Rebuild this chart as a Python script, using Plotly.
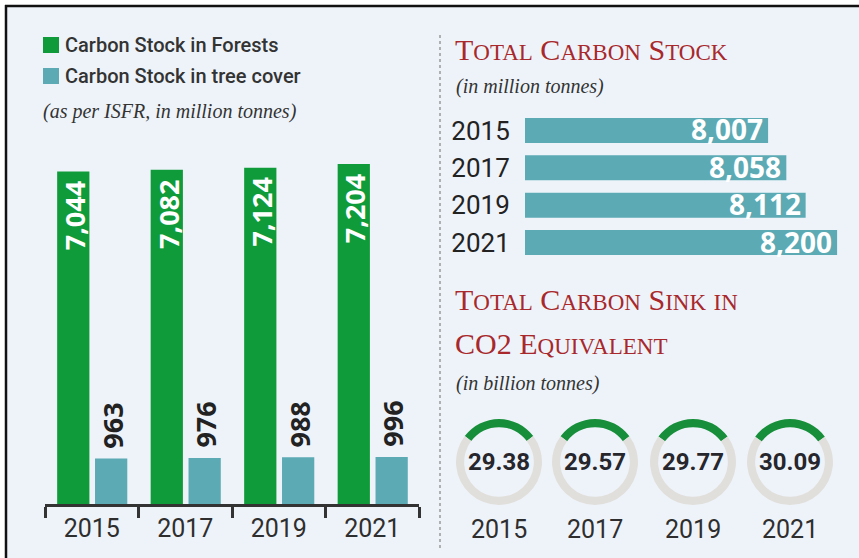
import plotly.graph_objects as go

W, H = 859, 558


def px(x):
    return x / W


def py(y):
    return 1 - y / H


# ---------------- data ----------------
years = ["2015", "2017", "2019", "2021"]
forest_stock = [7044, 7082, 7124, 7204]          # million tonnes
tree_cover_stock = [963, 976, 988, 996]          # million tonnes
total_stock = [8007, 8058, 8112, 8200]           # million tonnes
carbon_sink = [29.38, 29.57, 29.77, 30.09]       # billion tonnes CO2 eq.

legend_labels = ["Carbon Stock in Forests", "Carbon Stock in tree cover"]
left_note = "(as per ISFR, in million tonnes)"
title_stock = "Total Carbon Stock"
note_stock = "(in million tonnes)"
title_sink_1 = "Total Carbon Sink in"
title_sink_2 = "CO2 Equivalent"
note_sink = "(in billion tonnes)"
SINK_SCALE = 100  # gauge full circle

# ---------------- styles ----------------
GREEN = "#109B3B"
TEAL = "#5BAAB4"
GAUGE_GREEN = "#178F3A"
GAUGE_GREY = "#E1DFDB"
RED = "#A8282B"
DARK = "#2E2E2E"
BG = "#EEF3FA"
SANS = "Roboto, Noto Sans, sans-serif"
BOLD = "Open Sans, DejaVu Sans, sans-serif"
SERIF = "Liberation Serif, DejaVu Serif, serif"


def small_caps(text, big=30, small=23):
    out = []
    for ch in text:
        if ch.isupper() or ch.isdigit():
            out.append(f'<span style="font-size:{big}px">{ch}</span>')
        elif ch == " ":
            out.append(" ")
        else:
            out.append(f'<span style="font-size:{small}px">{ch.upper()}</span>')
    return "".join(out)


fig = go.Figure()

# ---------------- left grouped bars ----------------
BW = 0.345
OFF_G, OFF_T = -0.37, 0.035
fig.add_trace(go.Bar(x=years, y=forest_stock, name=legend_labels[0],
                     marker=dict(color=GREEN, line=dict(width=0)),
                     width=BW, offset=OFF_G, xaxis="x", yaxis="y",
                     hoverinfo="skip", showlegend=False))
fig.add_trace(go.Bar(x=years, y=tree_cover_stock, name=legend_labels[1],
                     marker=dict(color=TEAL, line=dict(width=0)),
                     width=BW, offset=OFF_T, xaxis="x", yaxis="y",
                     hoverinfo="skip", showlegend=False))

annotations = []
for i, (f, t) in enumerate(zip(forest_stock, tree_cover_stock)):
    annotations.append(dict(x=i + OFF_G + BW / 2, y=f, xref="x", yref="y",
                            text=f"{f:,}", textangle=-90, showarrow=False,
                            yanchor="top", xanchor="center", yshift=-8, xshift=1,
                            font=dict(family=BOLD, size=27, color="white", weight="bold")))
    annotations.append(dict(x=i + OFF_T + BW / 2, y=t, xref="x", yref="y",
                            text=f"{t:,}", textangle=-90, showarrow=False,
                            yanchor="bottom", xanchor="center", yshift=8, xshift=1,
                            font=dict(family=BOLD, size=27, color="#222222", weight="bold")))

# ---------------- right horizontal bars ----------------
K = 0.3575   # px per unit
V0 = 7327
X2L, X2R = 525, 845
fig.add_trace(go.Bar(y=years, x=total_stock, orientation="h",
                     marker=dict(color=TEAL, line=dict(width=0)), width=0.67,
                     xaxis="x2", yaxis="y2", hoverinfo="skip", showlegend=False))
for i, v in enumerate(total_stock):
    annotations.append(dict(x=v, y=i, xref="x2", yref="y2", text=f"{v:,}",
                            showarrow=False, xanchor="right", yanchor="middle",
                            xshift=-3, yshift=1,
                            font=dict(family=BOLD, size=28, color="white", weight="bold")))

# ---------------- gauges ----------------
gauge_cx = [499, 595, 693, 790]
GCY, GR = 462, 43
for cx, v, yr in zip(gauge_cx, carbon_sink, years):
    fig.add_trace(go.Pie(values=[v, SINK_SCALE - v], sort=False, direction="clockwise",
                         rotation=-v / SINK_SCALE * 180, hole=0.81,
                         marker=dict(colors=[GAUGE_GREEN, GAUGE_GREY], line=dict(width=0)),
                         textinfo="none", hoverinfo="skip", showlegend=False,
                         domain=dict(x=[px(cx - GR), px(cx + GR)], y=[py(GCY + GR), py(GCY - GR)])))
    annotations.append(dict(x=px(cx), y=py(GCY), xref="paper", yref="paper",
                            text=f"{v:.2f}", showarrow=False, xanchor="center", yanchor="middle",
                            font=dict(family=SANS, size=24, color="#26262C", weight="bold")))
    annotations.append(dict(x=px(cx), y=py(529), xref="paper", yref="paper",
                            text=yr, showarrow=False, xanchor="center", yanchor="middle",
                            font=dict(family=SANS, size=25, color=DARK)))

# ---------------- texts ----------------
legend_colors = [GREEN, TEAL]
legend_y = [45, 76]
shapes = [
    dict(type="rect", xref="paper", yref="paper", x0=px(6), x1=1, y0=0, y1=py(6),
         fillcolor=BG, line=dict(width=0), layer="below"),
    dict(type="line", xref="paper", yref="paper", x0=px(5), x1=1, y0=py(6), y1=py(6),
         line=dict(color="#111111", width=2.5)),
    dict(type="line", xref="paper", yref="paper", x0=px(6), x1=px(6), y0=0, y1=py(5),
         line=dict(color="#111111", width=2.5)),
    dict(type="line", xref="paper", yref="paper", x0=px(440), x1=px(440), y0=py(548), y1=py(33),
         line=dict(color="#9A9A9A", width=1.5, dash="dot")),
]
for c, ly, lab in zip(legend_colors, legend_y, legend_labels):
    shapes.append(dict(type="rect", xref="paper", yref="paper", x0=px(43), x1=px(59),
                       y0=py(ly + 8), y1=py(ly - 8), fillcolor=c, line=dict(width=0)))
    annotations.append(dict(x=px(63), y=py(ly), xref="paper", yref="paper", text=lab,
                            showarrow=False, xanchor="left", yanchor="middle",
                            font=dict(family=SANS, size=20, color="#333333", weight=500)))
annotations.append(dict(x=px(41), y=py(111), xref="paper", yref="paper", text=f"<i>{left_note}</i>",
                        showarrow=False, xanchor="left", yanchor="middle",
                        font=dict(family=SERIF, size=20, color="#333333")))

for txt, yy in [(title_stock, 49), (title_sink_1, 299), (title_sink_2, 343)]:
    annotations.append(dict(x=px(453), y=py(yy), xref="paper", yref="paper", text=small_caps(txt),
                            showarrow=False, xanchor="left", yanchor="middle",
                            font=dict(family=SERIF, size=30, color=RED)))
for txt, yy in [(note_stock, 87), (note_sink, 383)]:
    annotations.append(dict(x=px(454), y=py(yy), xref="paper", yref="paper", text=f"<i>{txt}</i>",
                            showarrow=False, xanchor="left", yanchor="middle",
                            font=dict(family=SERIF, size=20, color="#333333")))

S = 0.0472  # px per unit, left chart
Y_BASE, Y_TOP = 504, 152

fig.update_layout(
    width=W, height=H, margin=dict(l=0, r=0, t=0, b=0),
    paper_bgcolor="white", plot_bgcolor="rgba(0,0,0,0)",
    barmode="overlay",
    xaxis=dict(domain=[px(45), px(419)], type="category", range=[-0.5, 3.5],
               showline=True, linecolor="#333333", linewidth=2.5,
               ticks="outside", tickson="boundaries", ticklen=11, tickwidth=2.5, tickcolor="#333333",
               tickfont=dict(family=SANS, size=25, color=DARK), showgrid=False, zeroline=False,
               fixedrange=True),
    yaxis=dict(domain=[py(Y_BASE), py(Y_TOP)], range=[0, (Y_BASE - Y_TOP) / S],
               visible=False, fixedrange=True),
    xaxis2=dict(domain=[px(X2L), px(X2R)], range=[V0, V0 + (X2R - X2L) / K],
                visible=False, anchor="y2", fixedrange=True),
    yaxis2=dict(domain=[py(261.2), py(111.8)], type="category", range=[3.5, -0.5],
                anchor="x2", showline=False, showgrid=False, zeroline=False,
                ticks="outside", ticklen=9, tickcolor="rgba(0,0,0,0)",
                tickfont=dict(family=SANS, size=26, color="#222222"), fixedrange=True),
    shapes=shapes,
    annotations=annotations,
)

fig.write_html("out.html", config={"displayModeBar": False},
               post_script="document.body.style.margin='0';document.body.style.overflow='hidden';")
